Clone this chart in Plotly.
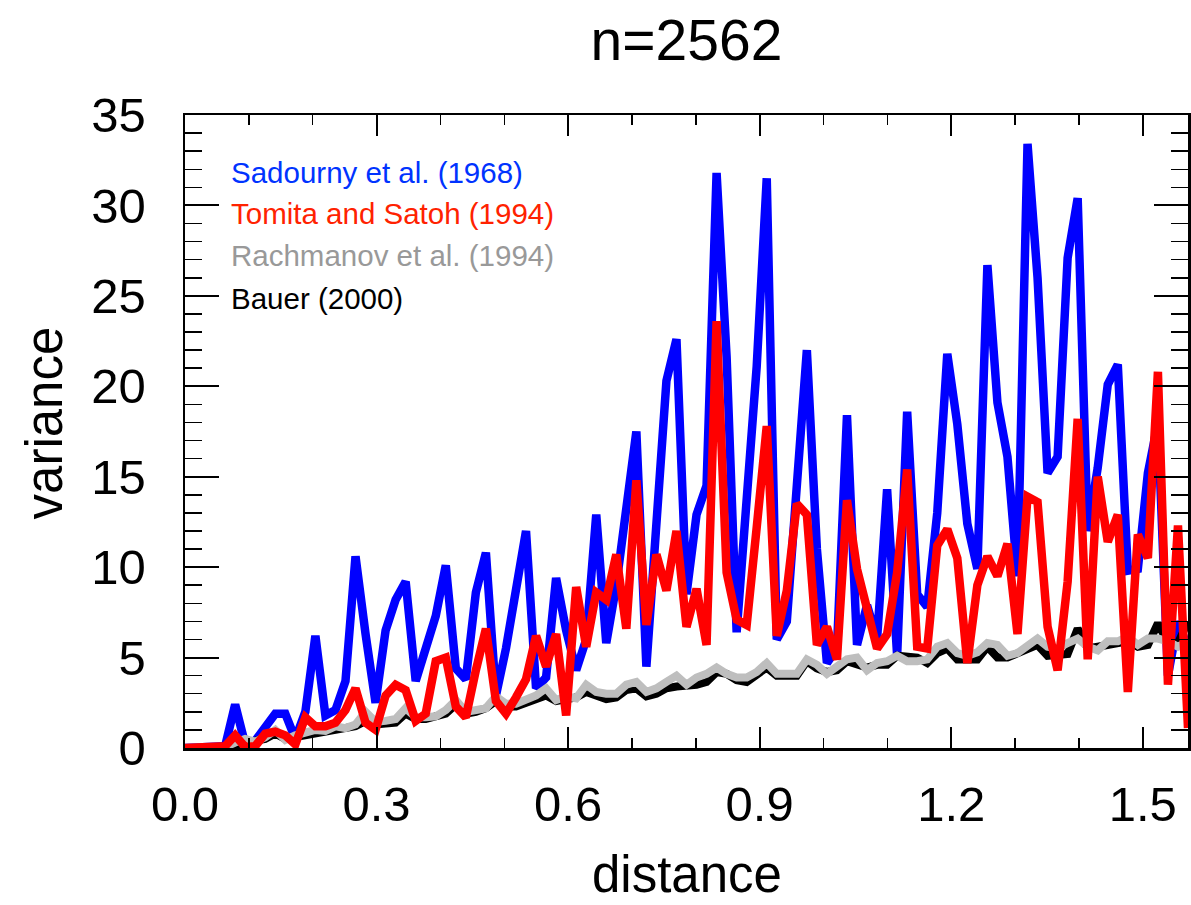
import numpy as np
import plotly.graph_objects as go

# x grid: 101 samples over [0, pi/2]
distance = np.linspace(0, np.pi / 2, 101)

sadourny = [0, 0, 0, 0, 0.1, 2.4, 0.2, 0.4, 1.1, 1.9,
            1.9, 0.5, 2.0, 6.2, 1.8, 2.1, 3.7, 10.6, 6.3, 2.5,
            6.5, 8.2, 9.2, 3.7, 5.5, 7.3, 10.1, 4.4, 3.8, 8.6,
            10.8, 2.9, 5.5, 8.7, 12.0, 3.3, 3.9, 9.4, 6.5, 4.3,
            6.0, 12.9, 5.8, 9.0, 13.3, 17.5, 4.5, 12.3, 20.3, 22.6,
            8.5, 12.9, 14.5, 31.8, 21.6, 6.4, 13.5, 21.1, 31.5, 6.0,
            7.0, 14.5, 22.0, 11.0, 4.7, 5.5, 18.4, 5.7, 7.9, 6.0,
            14.3, 5.1, 18.6, 8.5, 7.8, 13.0, 21.8, 17.9, 12.4, 9.9,
            26.7, 19.1, 16.1, 9.5, 33.4, 26.0, 15.2, 16.1, 27.1, 30.4,
            12.0, 15.5, 20.1, 21.2, 9.8, 9.9, 15.2, 18.0, 4.0, 7.0,
            5.5]

tomita = [0, 0, 0, 0, 0.1, 0.7, 0.05, 0.1, 0.8, 0.9,
          0.7, 0.2, 1.7, 1.2, 1.2, 1.4, 2.1, 3.3, 1.4, 1.0,
          2.9, 3.5, 3.2, 1.5, 1.9, 4.8, 5.0, 2.3, 1.7, 4.3,
          6.6, 2.6, 1.9, 2.8, 3.8, 6.2, 4.5, 6.3, 1.8, 8.9,
          5.6, 8.6, 8.2, 10.7, 6.6, 14.8, 6.8, 10.7, 8.7, 12.0,
          6.7, 8.8, 5.7, 23.6, 9.7, 7.1, 6.8, 12.2, 17.8, 6.2,
          8.7, 13.5, 12.9, 5.7, 6.7, 4.9, 13.7, 9.9, 7.9, 5.5,
          6.3, 9.7, 15.4, 5.6, 5.5, 11.2, 12.1, 10.5, 4.7, 9.0,
          10.6, 9.5, 11.3, 6.3, 13.9, 13.6, 6.7, 4.3, 9.2, 18.2,
          4.9, 15.0, 11.4, 12.9, 3.1, 11.8, 10.5, 20.8, 3.5, 12.3,
          1.1]

rachmanov = [0, 0, 0, 0, 0.05, 0.3, 0.5, 0.35, 0.6, 1.0,
             0.45, 0.7, 0.8, 1.0, 0.95, 1.2, 1.1, 1.3, 2.0, 1.45,
             1.5, 1.6, 2.2, 1.7, 1.7, 1.75, 2.1, 2.65, 2.0, 2.1,
             2.2, 2.85, 2.45, 2.45, 2.65, 2.9, 3.3, 2.65, 2.85, 2.75,
             3.5, 3.1, 3.0, 3.0, 3.5, 3.65, 3.1, 3.3, 3.65, 4.0,
             3.5, 3.9, 4.1, 4.45, 4.1, 3.9, 3.9, 4.2, 4.7, 4.1,
             4.1, 4.1, 4.9, 4.6, 4.1, 4.45, 4.9, 5.0, 4.3, 4.7,
             4.8, 5.1, 4.8, 4.8, 4.9, 5.6, 5.8, 5.25, 5.1, 5.3,
             5.8, 5.7, 5.1, 5.25, 5.7, 6.05, 5.6, 5.5, 5.8, 6.05,
             5.6, 5.4, 5.9, 5.9, 6.15, 5.7, 6.05, 6.05, 5.9, 5.6,
             5.9]

bauer = [0, 0, 0, 0, 0.0, 0.15, 0.35, 0.4, 0.5, 0.8,
         0.5, 0.6, 0.7, 0.85, 0.9, 1.0, 1.1, 1.2, 1.5, 1.3,
         1.35, 1.4, 1.9, 1.6, 1.6, 1.7, 1.9, 2.4, 1.9, 2.0,
         2.2, 2.6, 2.3, 2.3, 2.5, 2.6, 2.9, 2.6, 2.7, 2.8,
         3.1, 2.9, 2.7, 2.8, 3.2, 3.3, 2.85, 3.0, 3.3, 3.4,
         3.4, 3.5, 3.65, 4.2, 4.1, 3.75, 3.65, 4.0, 4.45, 4.0,
         4.0, 4.0, 4.8, 4.4, 4.2, 4.3, 4.8, 4.6, 4.45, 4.6,
         4.6, 5.1, 5.0, 5.0, 4.7, 5.25, 5.5, 4.9, 4.9, 4.9,
         5.6, 5.0, 5.0, 5.2, 5.4, 5.7, 5.1, 5.1, 5.2, 6.6,
         5.5, 5.6, 5.7, 5.8, 5.9, 5.6, 5.7, 6.9, 5.8, 5.8,
         7.0]

legend_labels = ["Sadourny et al. (1968)", "Tomita and Satoh (1994)",
                 "Rachmanov et al. (1994)", "Bauer (2000)"]
legend_colors = ["#0033ff", "#ff2200", "#999999", "#000000"]

FONT = "Liberation Sans, Arial, Helvetica, sans-serif"

fig = go.Figure()
fig.add_trace(go.Scatter(x=distance, y=sadourny, mode="lines",
                         line=dict(color="#0000ff", width=8.5)))
fig.add_trace(go.Scatter(x=distance, y=bauer, mode="lines",
                         line=dict(color="#000000", width=8)))
fig.add_trace(go.Scatter(x=distance, y=rachmanov, mode="lines",
                         line=dict(color="#bebebe", width=8)))
fig.add_trace(go.Scatter(x=distance, y=tomita, mode="lines",
                         line=dict(color="#ff0000", width=8.5)))

W, H = 1191, 905
L, R, T, B = 185, 0, 115, 157
pw, ph = W - L - R, H - T - B


def px2paper(xp, yp):
    return (xp - L) / pw, (H - B - yp) / ph


leg_y = [172, 214, 256, 298]
for lab, col, yy in zip(legend_labels, legend_colors, leg_y):
    xx, yy2 = px2paper(229, yy)
    fig.add_annotation(text=lab, x=xx, y=yy2, xref="paper", yref="paper",
                       xanchor="left", yanchor="middle", showarrow=False,
                       font=dict(family=FONT, size=29.5, color=col))

xx, yy = px2paper(688, 904)
fig.add_annotation(text="distance", x=xx, y=yy, xref="paper", yref="paper",
                   xanchor="center", yanchor="bottom", showarrow=False,
                   borderpad=0,
                   font=dict(family=FONT, size=51, color="black"))
xx, yy = px2paper(44, 423)
fig.add_annotation(text="variance", x=xx, y=yy, xref="paper", yref="paper",
                   xanchor="center", yanchor="middle", showarrow=False,
                   textangle=-90,
                   font=dict(family=FONT, size=51, color="black"))

axis_common = dict(showgrid=False, zeroline=False, showline=True,
                   linecolor="black", linewidth=2.5, mirror="ticks",
                   ticks="inside", tickcolor="black", tickwidth=2,
                   tickfont=dict(family=FONT, size=49, color="black"))

fig.update_xaxes(range=[0, np.pi / 2], tick0=0, dtick=0.3, tickformat=".1f",
                 ticklen=21, ticklabelstandoff=12,
                 minor=dict(dtick=0.1, ticklen=10, ticks="inside",
                            tickcolor="black", tickwidth=1.5),
                 **axis_common)
fig.update_yaxes(range=[0, 35], tick0=0, dtick=5, ticklen=34,
                 ticklabelstandoff=27,
                 minor=dict(dtick=1, ticklen=17, ticks="inside",
                            tickcolor="black", tickwidth=1.5),
                 **axis_common)

fig.update_layout(
    width=W, height=H,
    margin=dict(l=L, r=R, t=T, b=B, pad=0),
    paper_bgcolor="white", plot_bgcolor="white",
    showlegend=False,
    hovermode=False,
    title=dict(text="n=2562", x=0.5, xref="paper", xanchor="center",
               y=1 - 40 / H, yref="container", yanchor="middle",
               font=dict(family=FONT, size=57, color="black")),
)

fig.write_html(
    "out.html",
    config={"displayModeBar": False, "staticPlot": True},
    post_script="document.documentElement.style.margin='0';"
                "document.body.style.margin='0';"
                "document.body.style.padding='0';"
                "document.body.style.overflow='hidden';",
)
